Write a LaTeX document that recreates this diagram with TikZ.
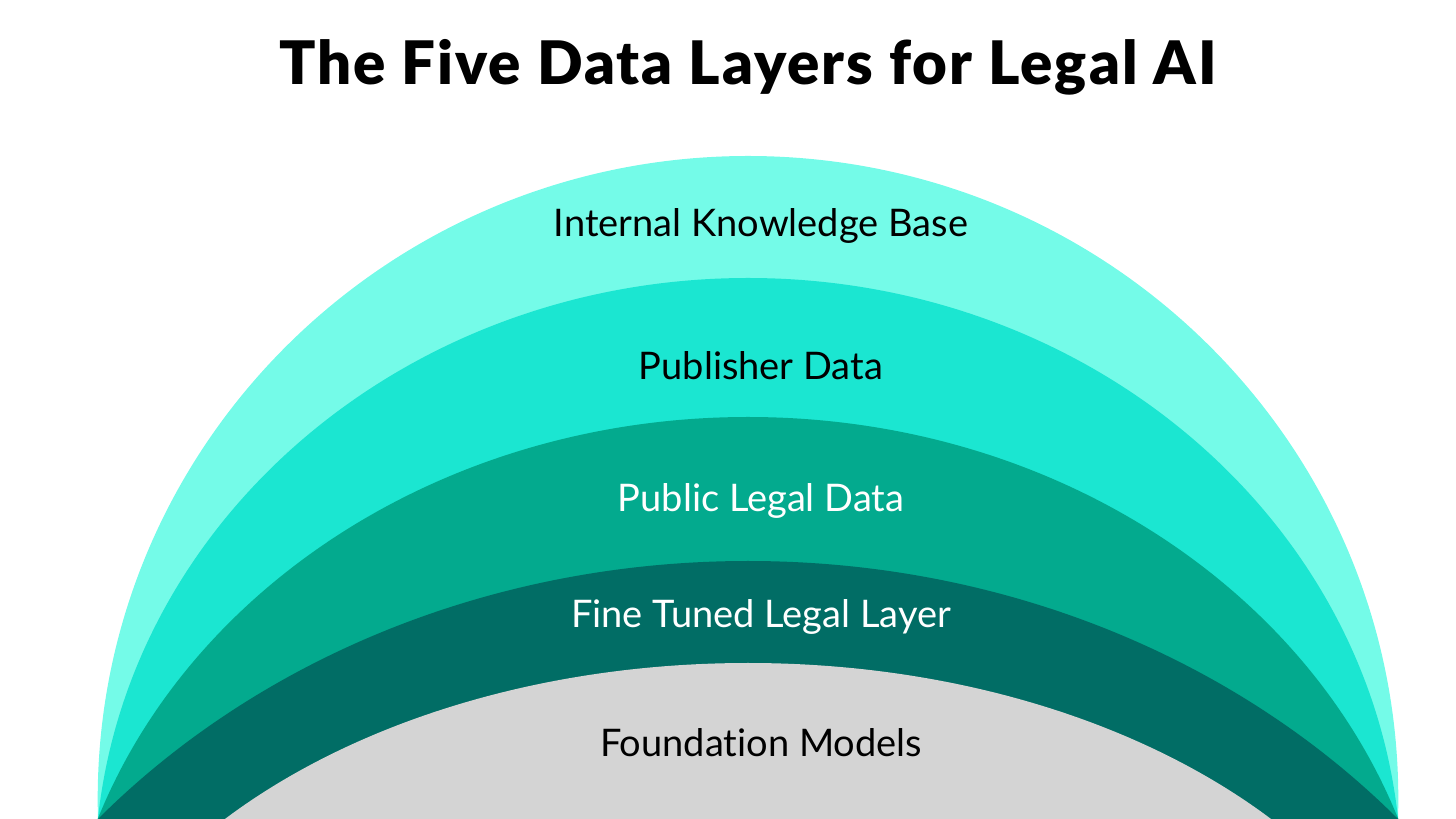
\documentclass[tikz,border=0pt]{standalone}
\usepackage{fontspec}
\setmainfont{Lato}[Ligatures=NoCommon]
\newfontfamily\titlefont{Lato Black}[Ligatures=NoCommon,LetterSpace=3.3]
\definecolor{kbcol}{HTML}{74FBE8}
\definecolor{pubcol}{HTML}{1BE6D1}
\definecolor{lawcol}{HTML}{03AA8E}
\definecolor{tunecol}{HTML}{016D65}
\definecolor{basecol}{HTML}{D4D4D4}
\newcommand{\midx}{748}

\begin{document}
\begin{tikzpicture}[x=1pt,y=1pt,
  layer/.style={font=\fontsize{38}{46}\selectfont,anchor=base}]
  \useasboundingbox (0,0) rectangle (1456,819);

  % the five half-ellipses, cut off at the bottom edge
  \begin{scope}
    \clip (0,0) rectangle (1456,819);
    \fill[kbcol]   (\midx,20)   ellipse [x radius=650.3,y radius=643];
    \fill[pubcol]  (\midx,-60)  ellipse [x radius=653.3,y radius=601];
    \fill[lawcol]  (\midx,-200) ellipse [x radius=689.2,y radius=602];
    \fill[tunecol] (\midx,-500) ellipse [x radius=864.8,y radius=758];
    \fill[basecol] (\midx,-300) ellipse [x radius=694.5,y radius=456];
  \end{scope}

  \node[anchor=base,font=\fontsize{60}{72}\titlefont] (title) at (\midx,734) {The Five Data Layers for Legal AI};

  \node[layer] (kb)   at (761,582) {Internal Knowledge Base};
  \node[layer] (pub)  at (761,439) {Publisher Data};
  \node[layer,white] (law)  at (761,307) {Public Legal Data};
  \node[layer,white] (tune) at (761,191) {Fine Tuned Legal Layer};
  \node[layer] (base) at (761,62)  {Foundation Models};

\end{tikzpicture}
\end{document}
